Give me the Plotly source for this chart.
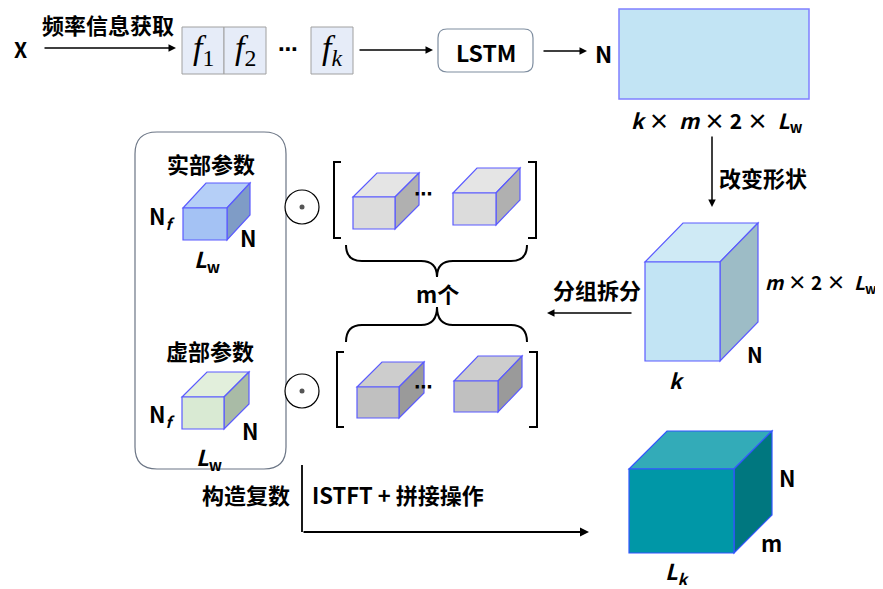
import plotly.graph_objects as go

# ---- text content (labels) ----
input_label = "X"
step_labels = ["频率信息获取", "改变形状", "分组拆分", "构造复数", "ISTFT + 拼接操作"]
freq_labels = ["1", "2", "k"]
model_label = "LSTM"
part_labels = ["实部参数", "虚部参数"]
count_label = "m个"
NB = "\u00a0"
dim_labels = {
    "flat": f"<b><i>k</i>{NB}×{NB}{NB}<i>m</i>{NB}×{NB}2{NB}×{NB}{NB}<i>L</i><sub>w</sub></b>",
    "cube_side": f"<b><i>m</i>{NB}×{NB}2{NB}×{NB}{NB}<i>L</i><sub>w</sub></b>",
}

W, H = 883, 589
PAGE_MARGIN = 8  # browser body margin
FONT = "Noto Sans CJK SC"
EDGE = "#5b5bff"

shapes = []
annos = []


def txt(x, y, s, size=22, color="black", family=FONT, bold=True, xanchor="center"):
    annos.append(dict(x=x, y=y, text=(f"<b>{s}</b>" if bold else s), showarrow=False,
                      xref="x", yref="y", xanchor=xanchor, yanchor="middle",
                      font=dict(family=family, size=size, color=color)))


def arrow(x0, y0, x1, y1, w=1.5):
    annos.append(dict(x=x1, y=y1, ax=x0, ay=y0, xref="x", yref="y", axref="x", ayref="y",
                      text="", showarrow=True, arrowhead=2, arrowsize=1, arrowwidth=w,
                      arrowcolor="black", standoff=0, startstandoff=0))


def rect(x0, y0, x1, y1, fill, line, lw=1.2):
    shapes.append(dict(type="rect", x0=x0, y0=y0, x1=x1, y1=y1, xref="x", yref="y",
                       fillcolor=fill, line=dict(color=line, width=lw)))


def path(d, fill=None, line="black", lw=1.5):
    s = dict(type="path", path=d, xref="x", yref="y", line=dict(color=line, width=lw))
    if fill:
        s["fillcolor"] = fill
    shapes.append(s)


def rrect(x0, y0, x1, y1, r, line, lw=1.2):
    d = (f"M {x0+r},{y0} L {x1-r},{y0} Q {x1},{y0} {x1},{y0+r} L {x1},{y1-r} "
         f"Q {x1},{y1} {x1-r},{y1} L {x0+r},{y1} Q {x0},{y1} {x0},{y1-r} "
         f"L {x0},{y0+r} Q {x0},{y0} {x0+r},{y0} Z")
    path(d, fill="white", line=line, lw=lw)


def cube(x0, y0, w, h, dx, dy, front, top, side, edge=EDGE, lw=1.2):
    x1, y1 = x0 + w, y0 + h
    path(f"M {x0},{y0} L {x0+dx},{y0-dy} L {x1+dx},{y0-dy} L {x1},{y0} Z", fill=top, line=edge, lw=lw)
    path(f"M {x1},{y0} L {x1+dx},{y0-dy} L {x1+dx},{y1-dy} L {x1},{y1} Z", fill=side, line=edge, lw=lw)
    rect(x0, y0, x1, y1, front, edge, lw)


# ---- top row ----
txt(20, 49, input_label, size=21)
txt(108, 24, step_labels[0], size=22)
arrow(43, 48, 176, 48)

fbox = [(182, 224), (224, 266), (311, 353)]
for (a, b), lab in zip(fbox, freq_labels):
    rect(a, 27, b, 74, "#e6ecf8", "#a0a0a0", 1)
    sub = f"<i>{lab}</i>" if lab == "k" else lab
    txt((a + b) / 2, 50, f"<i>f</i><sub>{sub}</sub>", size=34,
        family="Liberation Serif", bold=False)
txt(288, 49, "⋯", size=20, family="DejaVu Sans")
arrow(358, 50, 433, 50)

rrect(438, 29, 533, 72, 9, "#7f8ea0", 1.2)
txt(486, 52, model_label, size=23)
arrow(542, 51, 587, 51)
txt(603, 53, "N", size=23)

rect(619, 9, 809, 99, "#c2e4f4", "#8080ff", 1.5)
annos.append(dict(x=717, y=121, text=dim_labels["flat"], showarrow=False, xref="x", yref="y",
                  font=dict(family=FONT, size=21, color="black")))

arrow(712, 135, 712, 207)
txt(763, 177, step_labels[1], size=22)

# ---- big cube ----
cube(645, 262, 75, 99, 38, 39, "#c2e4f4", "#cfeaf5", "#9dbcc6")
annos.append(dict(x=763, y=283, text=dim_labels["cube_side"], showarrow=False, xref="x", yref="y",
                  xanchor="left", font=dict(family=FONT, size=19, color="black")))
txt(755, 354, "N", size=21)
annos.append(dict(x=677, y=380, text="<b><i>k</i></b>", showarrow=False, xref="x", yref="y",
                  font=dict(family=FONT, size=21, color="black")))
txt(597, 289, step_labels[2], size=22)
arrow(633, 313, 547, 313)

# ---- left parameter box ----
rrect(135, 132, 286, 469, 22, "#6b7585", 1.2)
txt(211, 163, part_labels[0], size=22)
cube(183, 208, 44, 32, 23, 25, "#a4c2f4", "#b5cff7", "#7f9cc6")
txt(162, 216, "N<sub><i>f</i></sub>", size=22)
txt(248, 237, "N", size=22)
txt(207, 259, "<i>L</i><sub>w</sub>", size=22)

txt(210, 350, part_labels[1], size=22)
cube(182, 397, 42, 32, 25, 25, "#d9ead3", "#e2efdc", "#a9bba6")
txt(162, 414, "N<sub><i>f</i></sub>", size=22)
txt(250, 430, "N", size=22)
txt(209, 457, "<i>L</i><sub>w</sub>", size=22)

# ---- odot symbols ----
for cy in (207, 391):
    shapes.append(dict(type="circle", x0=285, x1=319, y0=cy - 17, y1=cy + 17, xref="x", yref="y",
                       line=dict(color="black", width=1.2), fillcolor="white"))
    shapes.append(dict(type="circle", x0=299.5, x1=304.5, y0=cy - 2.5, y1=cy + 2.5, xref="x", yref="y",
                       line=dict(color="#555", width=0), fillcolor="#555"))

# ---- brackets ----
for (l, r, t, b) in [(334, 536, 162, 238), (337, 537, 352, 427)]:
    path(f"M {l+7},{t} L {l},{t} L {l},{b} L {l+7},{b}", lw=2)
    path(f"M {r-8},{t} L {r},{t} L {r},{b} L {r-8},{b}", lw=2)

# ---- gray cubes ----
cube(353, 197, 42, 32, 24, 24, "#dcdcdc", "#e5e5e5", "#b0b0b0")
cube(453, 193, 43, 32, 24, 25, "#dcdcdc", "#e5e5e5", "#b0b0b0")
txt(423, 193, "⋯", size=18, family="DejaVu Sans")
cube(357, 387, 42, 31, 25, 25, "#c0c0c0", "#cdcdcd", "#9a9a9a")
cube(454, 381, 44, 31, 24, 25, "#c0c0c0", "#cdcdcd", "#9a9a9a")
txt(423, 386, "⋯", size=18, family="DejaVu Sans")

# ---- braces ----
path("M 346,245 Q 346,261 362,261 L 421,261 Q 437,261 437,277 "
     "Q 437,261 453,261 L 511,261 Q 527,261 527,245", lw=2)
path("M 346,342 Q 346,325 362,325 L 421,325 Q 437,325 437,307 "
     "Q 437,325 453,325 L 511,325 Q 527,325 527,342", lw=2)
txt(437, 293, count_label, size=22)

# ---- bottom flow ----
txt(246, 494, step_labels[3], size=22)
txt(398, 494, step_labels[4].replace(" ", NB), size=22)
shapes.append(dict(type="line", x0=302, y0=465, x1=302, y1=532, xref="x", yref="y",
                   line=dict(color="black", width=1.8)))
arrow(302, 532, 589, 532, w=1.8)

cube(629, 469, 105, 84, 38, 38, "#0097a7", "#33abb8", "#00777f", edge="#3355ff", lw=1.2)
txt(787, 477, "N", size=22)
txt(771, 542, "m", size=22)
txt(677, 571, "<i>L</i><sub><i>k</i></sub>", size=22)

fig = go.Figure()
fig.update_layout(
    width=W - PAGE_MARGIN, height=H - PAGE_MARGIN, margin=dict(l=0, r=0, t=0, b=0),
    paper_bgcolor="white", plot_bgcolor="white",
    xaxis=dict(range=[PAGE_MARGIN, W], visible=False, fixedrange=True),
    yaxis=dict(range=[H, PAGE_MARGIN], visible=False, fixedrange=True),
    shapes=shapes, annotations=annos, showlegend=False,
)
fig.write_html("out.html")
